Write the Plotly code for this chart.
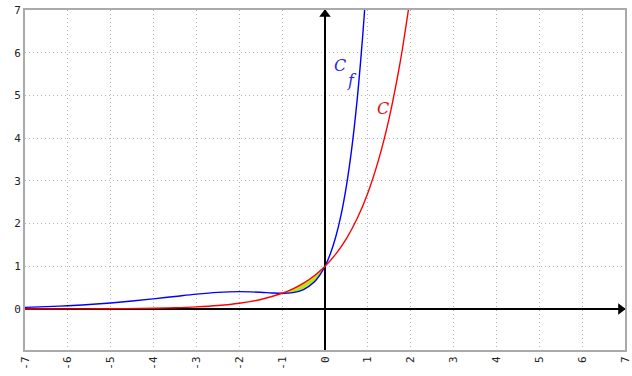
import plotly.graph_objects as go

# Blue curve C_f
xf = [-7, -6.5, -6, -5.5, -5, -4.5, -4, -3.5, -3, -2.5, -2, -1.5, -1.25, -1, -0.75,
      -0.5, -0.25, -0.125, 0, 0.125, 0.25, 0.375, 0.5, 0.625, 0.75, 0.875, 0.92, 0.95]
yf = [0.039, 0.055, 0.077, 0.105, 0.142, 0.186, 0.238, 0.294, 0.349, 0.390, 0.406, 0.391,
      0.376, 0.368, 0.384, 0.455, 0.633, 0.786, 1.0, 1.293, 1.685, 2.205, 2.885, 3.766,
      4.896, 6.335, 6.942, 7.38]

# Red curve C
xc = [-7, -6, -5, -4, -3.5, -3, -2.5, -2, -1.5, -1, -0.75, -0.5, -0.25, 0, 0.25, 0.5,
      0.75, 1, 1.25, 1.5, 1.75, 1.95, 2.0]
yc = [0.001, 0.0025, 0.0067, 0.0183, 0.0302, 0.0498, 0.0821, 0.1353, 0.2231, 0.3679,
      0.4724, 0.6065, 0.7788, 1.0, 1.284, 1.6487, 2.117, 2.7183, 3.4903, 4.4817, 5.7546,
      7.0287, 7.389]

# Shaded region between the curves
xs = [-1, -0.875, -0.75, -0.625, -0.5, -0.375, -0.25, -0.125, 0]
ys_low = [0.368, 0.371, 0.384, 0.410, 0.455, 0.526, 0.633, 0.786, 1.0]
ys_high = [0.368, 0.417, 0.472, 0.535, 0.607, 0.687, 0.779, 0.883, 1.0]

xticks = list(range(-7, 8))
yticks = list(range(0, 8))

fig = go.Figure()
fig.add_trace(go.Scatter(x=xs, y=ys_low, mode="lines", line=dict(width=0, shape="spline"),
                         hoverinfo="skip", showlegend=False))
fig.add_trace(go.Scatter(x=xs, y=ys_high, mode="lines", line=dict(width=0, shape="spline"),
                         fill="tonexty", fillcolor="#b5e61d", hoverinfo="skip", showlegend=False))
fig.add_trace(go.Scatter(x=xf, y=yf, mode="lines", line=dict(color="#0000ff", width=1.4, shape="spline"),
                         showlegend=False))
fig.add_trace(go.Scatter(x=xc, y=yc, mode="lines", line=dict(color="#ff0000", width=1.4, shape="spline"),
                         showlegend=False))
# axis arrowheads
fig.add_trace(go.Scatter(x=[0], y=[6.9], mode="markers", cliponaxis=False,
                         marker=dict(symbol="triangle-up", size=10, color="black"), showlegend=False))
fig.add_trace(go.Scatter(x=[6.9], y=[0], mode="markers", cliponaxis=False,
                         marker=dict(symbol="triangle-right", size=10, color="black"), showlegend=False))

fig.add_annotation(x=0.36, y=5.70, text="<i>C</i>", showarrow=False, borderpad=0,
                   font=dict(family="DejaVu Serif", size=16, color="#2a2ad8"))
fig.add_annotation(x=0.62, y=5.36, text="<i>f</i>", showarrow=False, borderpad=0,
                   font=dict(family="DejaVu Serif", size=16, color="#2a2ad8"))
fig.add_annotation(x=1.35, y=4.70, text="<i>C</i>", showarrow=False, borderpad=0,
                   font=dict(family="DejaVu Serif", size=16, color="#e01010"))

tickfont = dict(family="DejaVu Sans Mono", size=11, color="#222")
common = dict(showgrid=True, gridcolor="#b4b4b4", griddash="1px,3px", gridwidth=1,
              zeroline=True, zerolinecolor="black", zerolinewidth=1.5, showline=True,
              linecolor="#aaaaaa", linewidth=2, mirror=True, ticks="", fixedrange=True,
              automargin=False, tickfont=tickfont)
fig.update_xaxes(range=[-7, 7], tickvals=xticks, ticktext=[str(v) for v in xticks],
                 tickangle=-90, **common)
fig.update_yaxes(range=[-0.96, 7], tickvals=yticks, ticktext=[str(v) for v in yticks],
                 **common)
fig.update_layout(width=632, height=376, margin=dict(l=25, r=7, t=10, b=26),
                  plot_bgcolor="white", paper_bgcolor="white", showlegend=False)
fig.write_html("out.html")
